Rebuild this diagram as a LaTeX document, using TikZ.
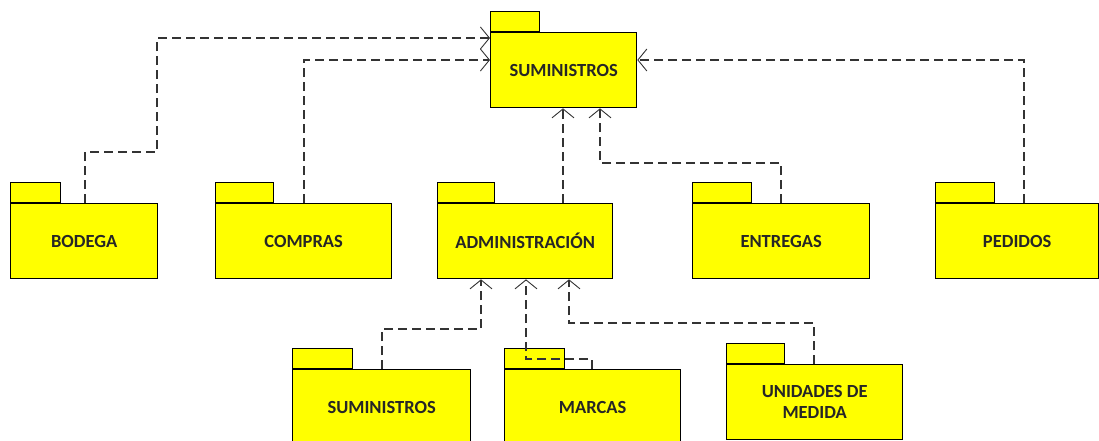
\documentclass[tikz,border=0pt]{standalone}
\usepackage{fontspec}
\setmainfont{Carlito}
\usetikzlibrary{arrows.meta}
\definecolor{pkgyellow}{RGB}{255,255,0}
\begin{document}
\begin{tikzpicture}[x=1pt,y=-1pt,
  pkg/.style={draw=black, fill=pkgyellow, line width=1.3pt, inner sep=0pt, anchor=north west,
    minimum height=75pt, font=\bfseries\fontsize{18.5}{21}\selectfont, align=center, text=black!85},
  pkgtab/.style={draw=black, fill=pkgyellow, line width=1.3pt, inner sep=0pt, anchor=south west,
    minimum height=20pt},
  dep/.style={draw=black!80, line width=1.2pt, dash pattern=on 9pt off 5pt,
    -{Straight Barb[length=9pt,width=22pt,line width=0.9pt]}}]
\useasboundingbox (0,0) rectangle (1099,440);
% tabs
\node[pkgtab, minimum width=49pt] (toptab) at (490,32) {};
\node[pkgtab, minimum width=50pt] (bodegatab) at (10,203) {};
\node[pkgtab, minimum width=58pt] (comprastab) at (215,203) {};
\node[pkgtab, minimum width=57pt] (admintab) at (437,203) {};
\node[pkgtab, minimum width=59pt] (entregastab) at (692,203) {};
\node[pkgtab, minimum width=59pt] (pedidostab) at (935,203) {};
\node[pkgtab, minimum width=60pt] (bsumtab) at (292,369) {};
\node[pkgtab, minimum width=60pt] (marcastab) at (504,369) {};
\node[pkgtab, minimum width=58pt] (unidtab) at (726,364) {};
% bodies
\node[pkg, minimum width=146pt] (top) at (490,32) {SUMINISTROS};
\node[pkg, minimum width=147pt] (bodega) at (10,203) {BODEGA};
\node[pkg, minimum width=176pt] (compras) at (215,203) {COMPRAS};
\node[pkg, minimum width=175pt] (admin) at (437,203) {ADMINISTRACIÓN};
\node[pkg, minimum width=177pt] (entregas) at (692,203) {ENTREGAS};
\node[pkg, minimum width=163pt] (pedidos) at (935,203) {PEDIDOS};
\node[pkg, minimum width=178pt] (bsum) at (292,369) {SUMINISTROS};
\node[pkg, minimum width=176pt] (marcas) at (504,369) {MARCAS};
\node[pkg, minimum width=176pt] (unid) at (726,364) {UNIDADES DE\\MEDIDA};
% connectors
\coordinate (bodegabend) at (157,152);
\draw[dep] ([xshift=75pt]bodega.north west) |- (bodegabend) |- ([yshift=-6pt]top.north west);
\draw[dep] ([xshift=89pt]compras.north west) |- ([yshift=-28pt]top.north west);
\draw[dep] ([xshift=126pt]admin.north west) -- ([xshift=73pt]top.south west);
\draw[dep] ([xshift=89pt]entregas.north west) -- ++(0,-40) -| ([xshift=110pt]top.south west);
\draw[dep] ([xshift=89pt]pedidos.north west) |- ([yshift=-28pt]top.north east);
\draw[dep] ([xshift=90pt]bsum.north west) -- ++(0,-40) -| ([xshift=44pt]admin.south west);
\draw[dep] ([xshift=88pt]marcas.north west) -- ++(0,-10) -| ([xshift=89pt]admin.south west);
\draw[dep] ([xshift=88pt]unid.north west) -- ++(0,-41) -| ([xshift=132pt]admin.south west);
\end{tikzpicture}
\end{document}
